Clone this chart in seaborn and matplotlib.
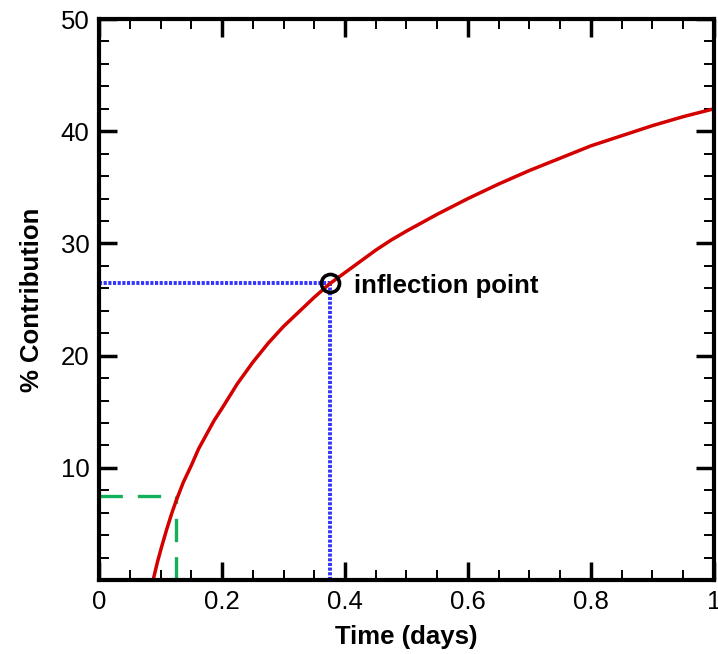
"""
Contribution vs time curve with inflection point marker
"""

# import section
import pandas as pd
import seaborn as sns
import matplotlib.pyplot as plt
from matplotlib.ticker import MultipleLocator

# data
TIME = [0.088, 0.095, 0.102, 0.11, 0.118, 0.125, 0.137, 0.15, 0.162, 0.175,
        0.187, 0.2, 0.225, 0.25, 0.275, 0.3, 0.325, 0.35, 0.375, 0.4, 0.425,
        0.45, 0.475, 0.5, 0.55, 0.6, 0.65, 0.7, 0.75, 0.8, 0.85, 0.9, 0.95, 1.0]
CONTRIB = [0.0, 1.6, 3.0, 4.5, 5.9, 7.0, 8.7, 10.2, 11.7, 13.0,
           14.2, 15.3, 17.5, 19.4, 21.1, 22.6, 23.9, 25.2, 26.4, 27.4, 28.4,
           29.4, 30.3, 31.1, 32.6, 34.0, 35.3, 36.5, 37.6, 38.7, 39.6, 40.5, 41.3, 42.0]
INFLECTION = (0.375, 26.5)
EARLY = (0.125, 7.5)
X_TICKS = [0, 0.2, 0.4, 0.6, 0.8, 1.0]
X_LABELS = ['0', '0.2', '0.4', '0.6', '0.8', '1']
Y_TICKS = [10, 20, 30, 40, 50]
Y_LABELS = ['10', '20', '30', '40', '50']

CURVE = pd.DataFrame({'time': TIME, 'contrib': CONTRIB})

sns.set_style('ticks')
plt.rcParams['font.family'] = ['Liberation Sans', 'DejaVu Sans']
plt.rcParams['text.color'] = 'black'
plt.rcParams['axes.labelcolor'] = 'black'
plt.rcParams['xtick.color'] = 'black'
plt.rcParams['ytick.color'] = 'black'

# set plot dimensions
X_PIXELS, Y_PIXELS, DPI = 718, 654, 100
fig = plt.figure(figsize=(X_PIXELS / DPI, Y_PIXELS / DPI), dpi=DPI)
ax = fig.add_axes([0.1379, 0.1131, 0.8565, 0.8578])

# guide lines
GUIDE = dict(ax=ax, estimator=None, sort=False)
sns.lineplot(x=[0, INFLECTION[0]], y=[INFLECTION[1], INFLECTION[1]],
             color='#3333ff', linewidth=2.8, linestyle=(0, (0.8, 0.4)), **GUIDE)
sns.lineplot(x=[INFLECTION[0], INFLECTION[0]], y=[0, INFLECTION[1]],
             color='#3333ff', linewidth=2.8, linestyle=(0, (0.8, 0.4)), **GUIDE)
sns.lineplot(x=[0, EARLY[0]], y=[EARLY[1], EARLY[1]],
             color='#12b05a', linewidth=2.4, linestyle=(0, (7, 4.5)), **GUIDE)
sns.lineplot(x=[EARLY[0], EARLY[0]], y=[0, EARLY[1]],
             color='#12b05a', linewidth=2.4, linestyle=(0, (7, 4.5)), **GUIDE)

# main curve
sns.lineplot(data=CURVE, x='time', y='contrib', ax=ax, color='#d40000',
             linewidth=2.5, sort=False, estimator=None)

# inflection marker
ax.plot(INFLECTION[0], INFLECTION[1], marker='o', markersize=13,
        markerfacecolor='none', markeredgecolor='black', markeredgewidth=2.6)
ax.text(INFLECTION[0] + 0.04, INFLECTION[1] - 0.3, 'inflection point',
        fontsize=18.5, fontweight='bold', va='center', ha='left')

ax.set_xlim(0, 1)
ax.set_ylim(0, 50)
ax.set_xticks(X_TICKS)
ax.set_xticklabels(X_LABELS)
ax.set_yticks(Y_TICKS)
ax.set_yticklabels(Y_LABELS)
ax.xaxis.set_minor_locator(MultipleLocator(0.05))
ax.yaxis.set_minor_locator(MultipleLocator(2))
ax.tick_params(which='major', direction='in', length=13, width=2.5,
               top=True, right=True, labelsize=18.5, pad=7, colors='black')
ax.tick_params(which='minor', direction='in', length=7, width=1.4,
               top=True, right=True)
for spine in ax.spines.values():
    spine.set_visible(True)
    spine.set_linewidth(3)
    spine.set_color('black')

ax.set_xlabel('Time (days)', fontsize=18.5, fontweight='bold', labelpad=8)
ax.set_ylabel('% Contribution', fontsize=18.5, fontweight='bold', labelpad=12)

plt.savefig('out.png', dpi=DPI)
